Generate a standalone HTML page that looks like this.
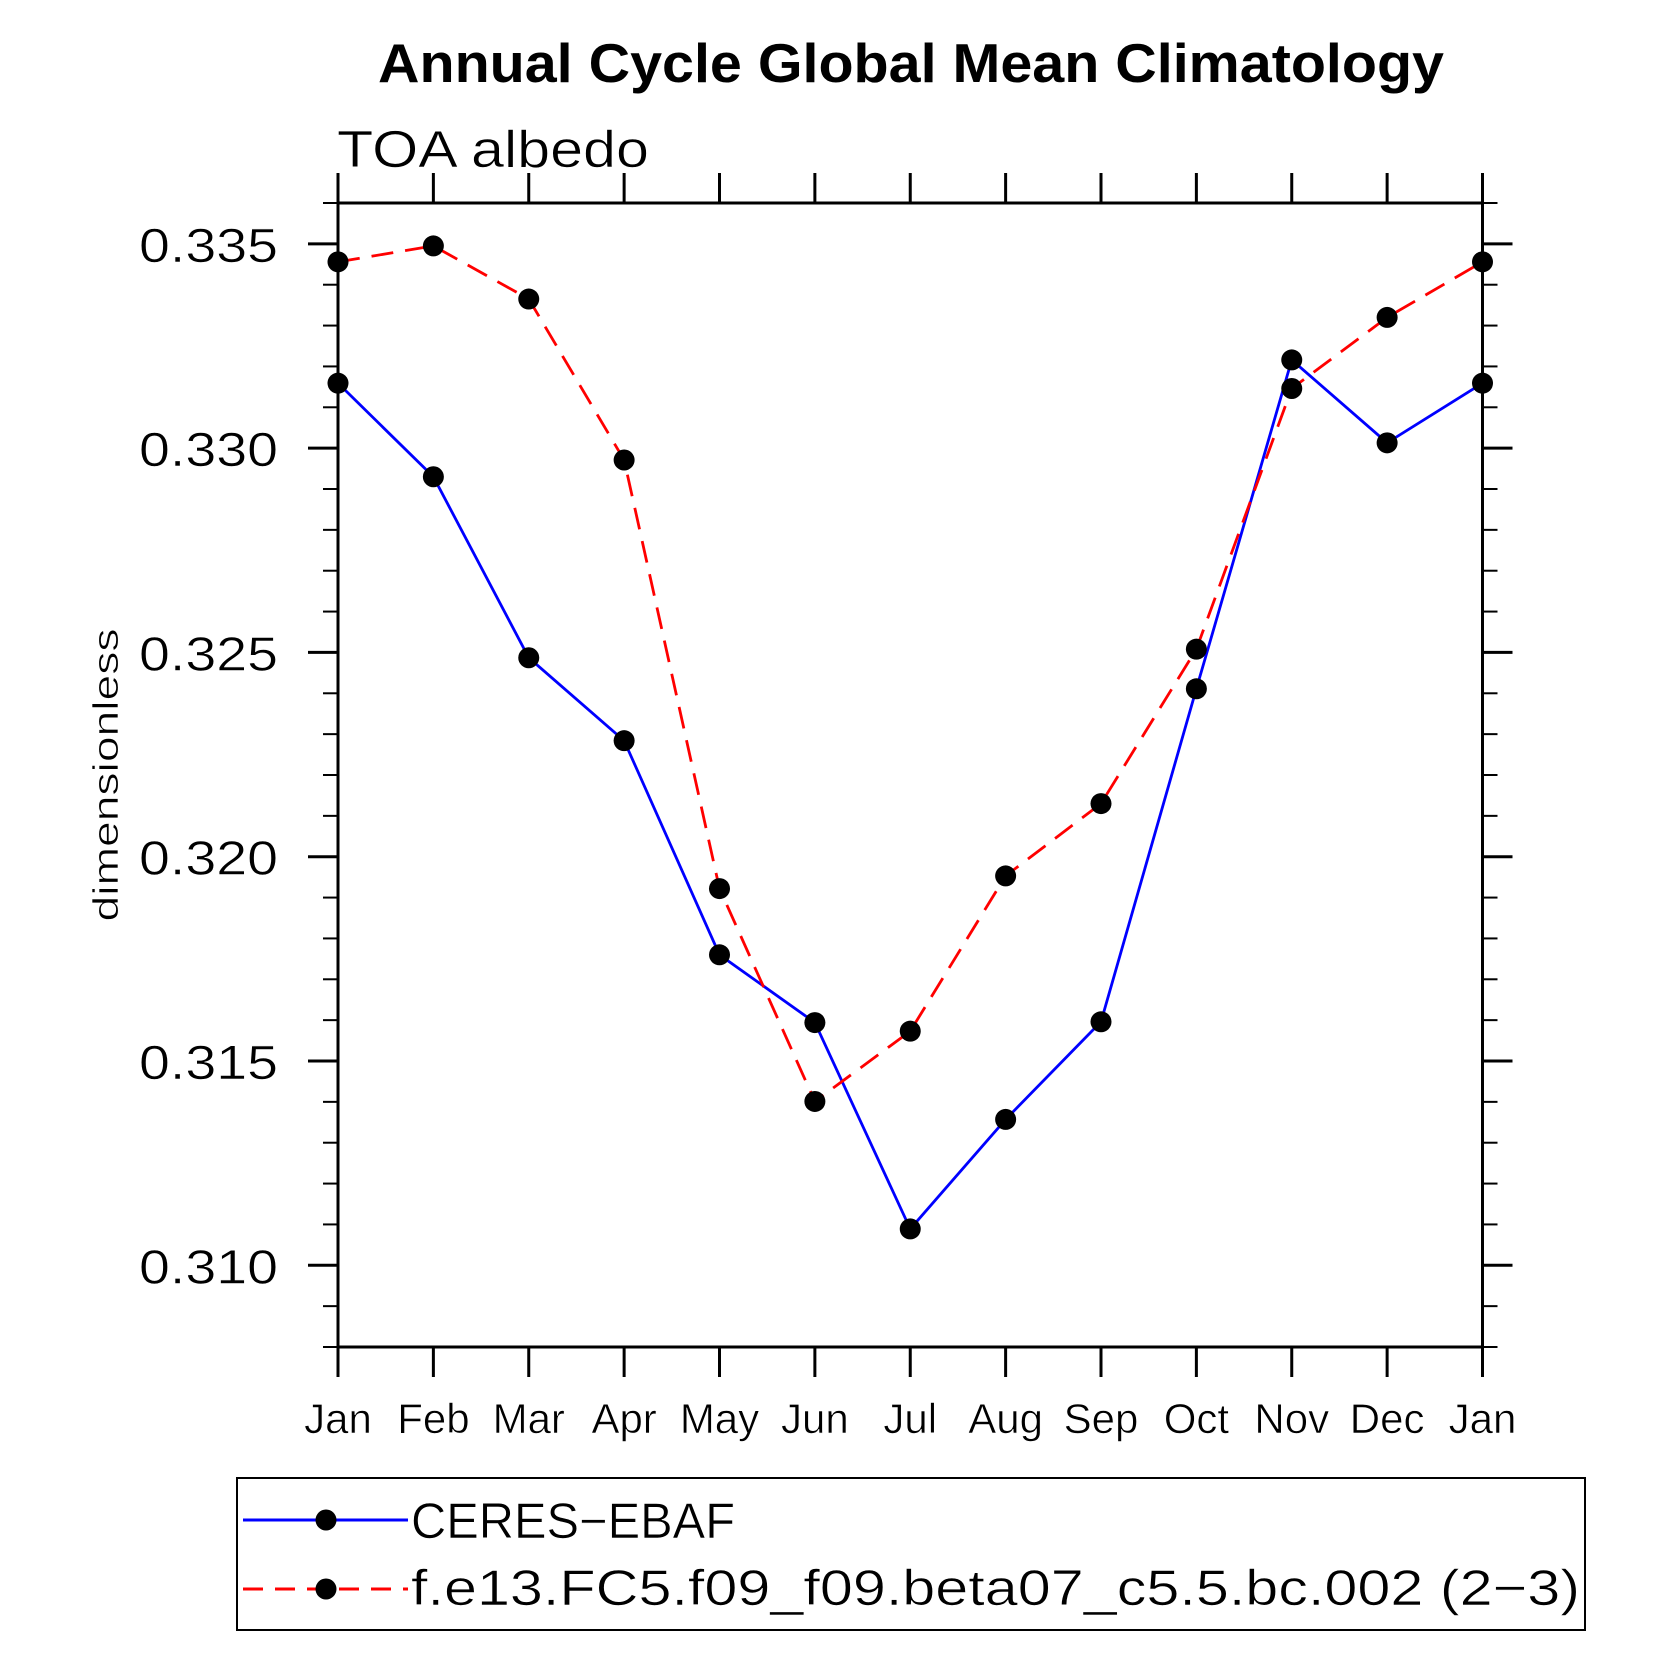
<!DOCTYPE html>
<html><head><meta charset="utf-8"><style>
html,body{margin:0;padding:0;background:#fff;}
svg{display:block;}
text{font-family:"Liberation Sans","DejaVu Sans",sans-serif;fill:#000;}
.thin{fill:#000;stroke:#fff;stroke-width:0.6px;paint-order:normal;}
</style></head><body>
<svg id="chart" width="1669" height="1669" viewBox="0 0 1669 1669">
<text x="911" y="82" text-anchor="middle" font-size="55" font-weight="bold" textLength="1066" lengthAdjust="spacingAndGlyphs">Annual Cycle Global Mean Climatology</text>
<text class="thin" x="337" y="167" font-size="52" textLength="312" lengthAdjust="spacingAndGlyphs">TOA albedo</text>
<text class="thin" transform="translate(118,775) rotate(-90)" text-anchor="middle" font-size="36" textLength="293" lengthAdjust="spacingAndGlyphs">dimensionless</text>
<g id="axes"></g>
<g id="series"></g>
<rect x="237" y="1478" width="1348" height="152" fill="none" stroke="#000" stroke-width="2"/>
<g>
<line x1="243" y1="1520" x2="408" y2="1520" stroke="#0000ff" stroke-width="3"/>
<circle cx="326" cy="1520" r="10.5" fill="#000"/>
<text class="thin" x="411" y="1538" font-size="50" textLength="324" lengthAdjust="spacingAndGlyphs">CERES−EBAF</text>
</g>
<g>
<line x1="243" y1="1589" x2="408" y2="1589" stroke="#ff0000" stroke-width="3" stroke-dasharray="20,12"/>
<circle cx="326" cy="1589" r="10.5" fill="#000"/>
<text class="thin" x="411" y="1605" font-size="50" textLength="1169" lengthAdjust="spacingAndGlyphs">f.e13.FC5.f09_f09.beta07_c5.5.bc.002 (2−3)</text>
</g>
</svg>
<script>
const months = ["Jan","Feb","Mar","Apr","May","Jun","Jul","Aug","Sep","Oct","Nov","Dec","Jan"];
const ceres = [0.33159,0.32930,0.32487,0.32284,0.31760,0.31594,0.31089,0.31357,0.31596,0.32411,0.33216,0.33013,0.33159];
const model = [0.33456,0.33495,0.33365,0.32971,0.31922,0.31401,0.31573,0.31953,0.32130,0.32508,0.33146,0.33320,0.33456];
const yTicks = [0.310,0.315,0.320,0.325,0.330,0.335];
const yTickLabels = ["0.310","0.315","0.320","0.325","0.330","0.335"];
const yMin = 0.308, yMax = 0.336;

const L=338, R=1482.5, T=203, B=1347;
const NS="http://www.w3.org/2000/svg";
function xs(i){return L+(R-L)*i/(months.length-1);}
function ys(v){return B-(B-T)*(v-yMin)/(yMax-yMin);}
function mk(tag,attrs,parent){const e=document.createElementNS(NS,tag);for(const k in attrs)e.setAttribute(k,attrs[k]);parent.appendChild(e);return e;}
const axes=document.getElementById('axes');
const ser=document.getElementById('series');

const frame=mk('rect',{x:L,y:T,width:R-L,height:B-T,fill:'none',stroke:'#000','stroke-width':3},axes);



for(let k=0;k<=28;k++){
  const v=yMin+k*0.001; const y=ys(v);
  const major=yTicks.some(t=>Math.abs(t-v)<1e-6);
  const len=major?30:15;
  const a=mk('line',{x1:L-len,y1:y,x2:L,y2:y,stroke:'#000','stroke-width':major?3:2},axes);
  
  
  const b=mk('line',{x1:R,y1:y,x2:R+len,y2:y,stroke:'#000','stroke-width':major?3:2},axes);
  
  
}
yTicks.forEach((t,i)=>{
  const tx=mk('text',{x:278,y:ys(t)+18,'text-anchor':'end','font-size':48,textLength:139,lengthAdjust:'spacingAndGlyphs','class':'thin'},axes);
  tx.textContent=yTickLabels[i];
  
  
});
months.forEach((m,i)=>{
  const x=xs(i);
  const a=mk('line',{x1:x,y1:B,x2:x,y2:B+30,stroke:'#000','stroke-width':3},axes);
  
  
  const b=mk('line',{x1:x,y1:T-30,x2:x,y2:T,stroke:'#000','stroke-width':3},axes);
  
  
  const tx=mk('text',{x:x,y:1433,'text-anchor':'middle','font-size':42,'class':'thin'},axes);
  tx.textContent=m;
  
  
});
function drawSeries(vals,color,dash,name){
  const pts=vals.map((v,i)=>xs(i)+','+ys(v)).join(' ');
  const pl=mk('polyline',{points:pts,fill:'none',stroke:color,'stroke-width':2.8},ser);
  if(dash)pl.setAttribute('stroke-dasharray',dash);
  
  
}
drawSeries(ceres,'#0000ff',null,'ceres');
drawSeries(model,'#ff0000','22,12','model');
[ceres,model].forEach((vals,s)=>{
  vals.forEach((v,i)=>{
    const c=mk('circle',{cx:xs(i),cy:ys(v),r:10.5,fill:'#000'},ser);
    
    
  });
});
</script>
</body></html>
